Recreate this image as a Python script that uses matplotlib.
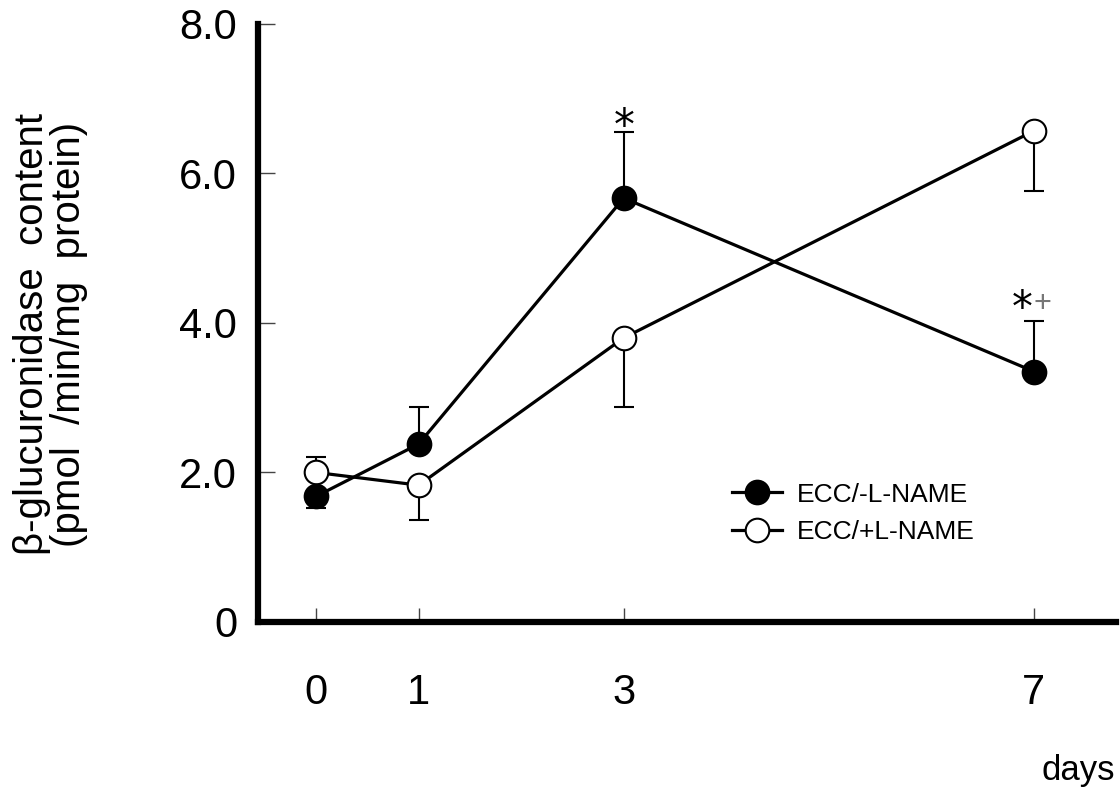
import numpy as np
import matplotlib.pyplot as plt

plt.rcParams['font.family'] = ['Liberation Sans', 'DejaVu Sans']

days = [0, 1, 3, 7]
minus_mean = [1.68, 2.38, 5.67, 3.35]
minus_lo = [0.16, 0.0, 0.0, 0.0]
minus_hi = [0.0, 0.50, 0.88, 0.67]
plus_mean = [2.0, 1.83, 3.80, 6.57]
plus_lo = [0.0, 0.46, 0.92, 0.80]
plus_hi = [0.21, 0.0, 0.0, 0.0]

fig = plt.figure(figsize=(11.2, 7.89), dpi=100)
ax = fig.add_axes([0.2304, 0.2117, 0.766, 0.758])

ax.errorbar(days, minus_mean, yerr=[minus_lo, minus_hi], fmt='none',
            ecolor='black', elinewidth=1.5, capsize=7.5, capthick=1.5, zorder=2)
ax.errorbar(days, plus_mean, yerr=[plus_lo, plus_hi], fmt='none',
            ecolor='black', elinewidth=1.5, capsize=7.5, capthick=1.5, zorder=2)
ax.plot(days, minus_mean, '-o', color='black', lw=2.3, ms=17,
        mfc='black', mec='black', mew=1.5, zorder=4, label='ECC/-L-NAME')
ax.plot(days, plus_mean, '-o', color='black', lw=2.3, ms=17,
        mfc='white', mec='black', mew=1.5, zorder=3, label='ECC/+L-NAME')

# significance marks
ax.text(3, 6.46, '*', fontsize=30, ha='center', va='baseline', family='DejaVu Sans')
ax.text(6.89, 4.02, '*', fontsize=30, ha='center', va='baseline', family='DejaVu Sans')
ax.text(7.08, 4.26, '+', fontsize=22, ha='center', va='center', color='#777777')

ax.set_xlim(-0.566, 7.8)
ax.set_ylim(0, 8.0)
ax.set_yticks([0, 2, 4, 6, 8])
ax.set_yticklabels(['0', '2.0', '4.0', '6.0', '8.0'])
ax.set_xticks(days)
ax.set_xticklabels(['0', '1', '3', '7'])
ax.tick_params(axis='y', direction='in', length=12, width=1, color='#444444',
               labelsize=30, pad=15)
ax.tick_params(axis='x', direction='in', length=10, width=1, color='#444444',
               labelsize=30, pad=37)
for s in ['top', 'right']:
    ax.spines[s].set_visible(False)
for s in ['left', 'bottom']:
    ax.spines[s].set_linewidth(4.5)

fig.text(0.045, 0.5767, 'β-glucuronidase  content\n(pmol  /min/mg  protein)',
         fontsize=29, rotation=90, ha='center', va='center',
         multialignment='center', linespacing=0.95)
fig.text(0.9955, 0.012, 'days', fontsize=25, ha='right', va='baseline')

leg = ax.legend(loc='upper left', bbox_to_anchor=(0.552, 0.233), frameon=False,
                fontsize=19, handlelength=1.9, handletextpad=0.57,
                labelspacing=0.5, borderpad=0, borderaxespad=0)

fig.savefig('out.png', dpi=100)
